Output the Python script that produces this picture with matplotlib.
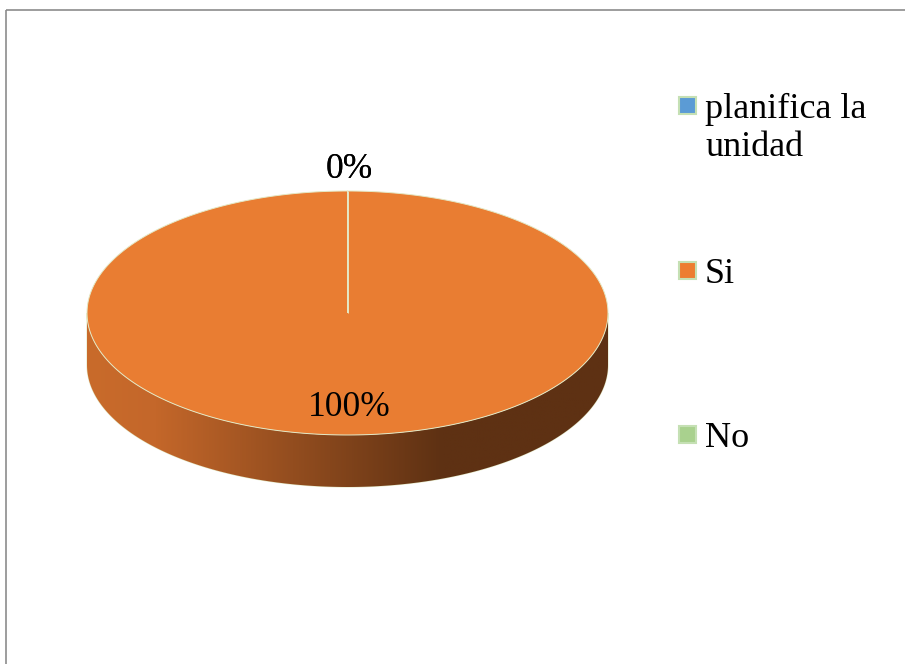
import numpy as np
import matplotlib
matplotlib.use("Agg")
import matplotlib.pyplot as plt
from matplotlib.patches import Polygon, Rectangle
from matplotlib.colors import LinearSegmentedColormap

# Data
labels = ["planifica la\nunidad", "Si", "No"]
values = [0, 100, 0]
colors = ["#5B9BD5", "#ED7D31", "#A9D18E"]
top_colors = ["#5B9BD5", "#E97D32", "#A9D18E"]

W, H = 905, 664
plt.rcParams['font.family'] = ['Liberation Serif', 'DejaVu Serif']

fig = plt.figure(figsize=(W / 100, H / 100), dpi=100)
ax = fig.add_axes([0, 0, 1, 1])
ax.set_xlim(0, W)
ax.set_ylim(H, 0)
ax.axis('off')

# frame (only top and left edges visible in the crop)
ax.add_patch(Rectangle((5.5, 9.5), W + 20, H + 20, fill=False,
                       edgecolor='#8c8c8c', lw=1.2))

# pie geometry (pixels)
cx, cy = 347.5, 313
rx, ry = 260.5, 122
depth = 52
edge = '#E4E9C6'


def ell(theta):
    return cx + rx * np.cos(theta), cy - ry * np.sin(theta)


# side of the pie: front half of the ellipse pushed down
t = np.linspace(0, np.pi, 200)
upper = np.column_stack([cx + rx * np.cos(t), cy + ry * np.sin(t)])
lower = upper[::-1] + [0, depth]
side = Polygon(np.vstack([upper, lower]), closed=True, facecolor='none',
               edgecolor=edge, lw=0.8, zorder=1)
ax.add_patch(side)
grad = LinearSegmentedColormap.from_list(
    'side', [(0, '#C96B2B'), (0.13, '#C4672A'), (0.68, '#5E3113'), (1, '#5E3113')])
img = ax.imshow(np.linspace(0, 1, 256).reshape(1, -1), cmap=grad, aspect='auto',
                extent=[cx - rx, cx + rx, cy + ry + depth, cy], zorder=1)
img.set_clip_path(side)

# top of the pie, slices clockwise from 12 o'clock
total = sum(values)
start = 90.0
label_pos = []
for v, c in zip(values, top_colors):
    sweep = 360.0 * v / total
    th = np.radians(np.linspace(start, start - sweep, max(2, int(sweep) + 2)))
    xs, ys = ell(th)
    pts = np.column_stack([np.r_[cx, xs], np.r_[cy, ys]])
    ax.add_patch(Polygon(pts, closed=True, facecolor=c, edgecolor=edge,
                         lw=0.7, zorder=2))
    mid = np.radians(start - sweep / 2)
    f = 1.2 if v == 0 else 0.75
    label_pos.append((cx + f * rx * np.cos(mid), cy - f * ry * np.sin(mid),
                      f"{v / total * 100:.0f}%"))
    start -= sweep

seen = set()
for x, y, s in label_pos:
    key = (round(x), round(y))
    if key in seen:
        continue
    seen.add(key)
    ax.text(x + 2, y + 3, s, fontsize=25.5, ha='center', va='center', zorder=3)

# legend
leg_y = [105, 270, 434]
for lab, c, y in zip(labels, colors, leg_y):
    ax.add_patch(Rectangle((679, y - 8.5), 17, 17, facecolor=c,
                           edgecolor='#C5E0B4', lw=1.5, zorder=3))
    ax.text(705, y - 12, lab, fontsize=26, ha='left', va='top',
            linespacing=1.2, zorder=3)

fig.savefig('out.png', dpi=100)
